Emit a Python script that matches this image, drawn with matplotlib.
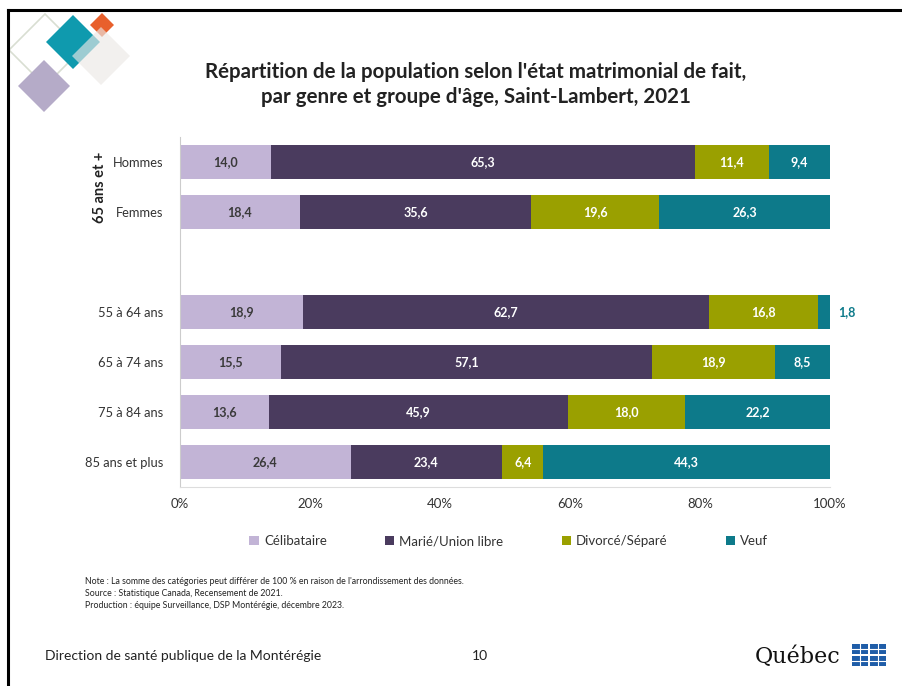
import matplotlib.pyplot as plt
from matplotlib.patches import Polygon, Rectangle
import numpy as np

plt.rcParams['font.family'] = ['Lato', 'DejaVu Sans']

# data
rows = ['Hommes', 'Femmes', '', '55 à 64 ans', '65 à 74 ans', '75 à 84 ans', '85 ans et plus']
series = ['Célibataire', 'Marié/Union libre', 'Divorcé/Séparé', 'Veuf']
celibataire = [14.0, 18.4, 0, 18.9, 15.5, 13.6, 26.4]
marie = [65.3, 35.6, 0, 62.7, 57.1, 45.9, 23.4]
divorce = [11.4, 19.6, 0, 16.8, 18.9, 18.0, 6.4]
veuf = [9.4, 26.3, 0, 1.8, 8.5, 22.2, 44.3]
colors = ['#C2B4D6', '#4A3B5E', '#9AA000', '#0D7A8A']
text_colors = ['#3A3A3A', 'white', 'white', 'white']

W, H = 902, 686
fig = plt.figure(figsize=(W / 100, H / 100), dpi=100)

# overlay for decoration (pixel coords)
deco = fig.add_axes([0, 0, 1, 1], zorder=0)
deco.set_xlim(0, W)
deco.set_ylim(H, 0)
deco.axis('off')


def diamond(cx, cy, r, **kw):
    pts = [(cx, cy - r), (cx + r, cy), (cx, cy + r), (cx - r, cy)]
    deco.add_patch(Polygon(pts, closed=True, **kw))


diamond(45, 50, 36, fill=False, edgecolor='#D9DED2', lw=1.2)
diamond(44, 86, 26, facecolor='#B5ABC8', edgecolor='none')
diamond(73, 42, 27, facecolor='#0F9AAE', edgecolor='none')
diamond(102, 25, 12, facecolor='#E8602C', edgecolor='none')
diamond(101, 56, 29, facecolor='#EBE8E6', edgecolor='none', alpha=0.65)

deco.plot([8, W], [10, 10], color='black', lw=2.2)
deco.plot([8, 8], [10, H], color='black', lw=2.2)

# title
fig.text(476 / W, 1 - 72 / H, "Répartition de la population selon l'état matrimonial de fait,",
         ha='center', va='center', fontsize=14.8, fontweight='bold', color='#222222')
fig.text(476 / W, 1 - 97 / H, "par genre et groupe d'âge, Saint-Lambert, 2021",
         ha='center', va='center', fontsize=14.8, fontweight='bold', color='#222222')

# chart (100 % stacked)
ax = fig.add_axes([180 / W, 1 - 487 / H, 650 / W, 350 / H], zorder=2)
ax.patch.set_alpha(0)
y = np.arange(len(rows))
data = np.array([celibataire, marie, divorce, veuf])
totals = data.sum(axis=0)
totals[totals == 0] = 1
left = np.zeros(len(rows))
for i, vals in enumerate(data):
    widths = vals / totals * 100
    ax.barh(y, widths, left=left, height=0.68, color=colors[i], label=series[i])
    for yi, (l, w, v) in enumerate(zip(left, widths, vals)):
        if v == 0:
            continue
        txt = f'{v:.1f}'.replace('.', ',')
        if v < 3:
            ax.text(l + w + 1.2, yi, txt, ha='left', va='center',
                    fontsize=9, fontweight='bold', color=colors[i])
        else:
            ax.text(l + w / 2, yi, txt, ha='center', va='center',
                    fontsize=9, fontweight='bold', color=text_colors[i])
    left += widths

ax.set_xlim(0, 100)
ax.set_ylim(len(rows) - 0.5, -0.5)
ax.set_xticks([0, 20, 40, 60, 80, 100])
ax.set_xticklabels(['0%', '20%', '40%', '60%', '80%', '100%'], fontsize=9.5, color='#333333')
ax.set_yticks(y)
ax.set_yticklabels(rows, fontsize=9.3, color='#333333')
ax.tick_params(axis='y', length=0, pad=12)
ax.tick_params(axis='x', length=0, pad=8)
for s in ['top', 'right']:
    ax.spines[s].set_visible(False)
ax.spines['left'].set_color('#CCCCCC')
ax.spines['bottom'].set_color('#DDDDDD')

fig.text(100 / W, 1 - 187 / H, '65 ans et +', rotation=90, ha='center', va='center',
         fontsize=10.5, fontweight='bold', color='#222222')

ax.legend(loc='center', bbox_to_anchor=(0.506, 1 - (541 - 137) / 350), ncol=4, frameon=False,
          fontsize=9.5, handlelength=0.7, handleheight=0.7, columnspacing=4.4,
          handletextpad=0.4, labelcolor='#333333')

# notes
notes = ["Note : La somme des catégories peut différer de 100 % en raison de l'arrondissement des données.",
         "Source : Statistique Canada, Recensement de 2021.",
         "Production : équipe Surveillance, DSP Montérégie, décembre 2023."]
for k, n in enumerate(notes):
    fig.text(85 / W, 1 - (581 + 12 * k) / H, n, ha='left', va='center', fontsize=6.3, color='#222222')

# footer
fig.text(45 / W, 1 - 656 / H, 'Direction de santé publique de la Montérégie', ha='left', va='center',
         fontsize=10, color='#222222')
fig.text(480 / W, 1 - 656 / H, '10', ha='center', va='center', fontsize=10, color='#222222')
fig.text(755 / W, 1 - 657 / H, 'Québec', ha='left', va='center', fontsize=16,
         family=['DejaVu Serif'], color='#111111')
for (qx, qy) in [(852, 644), (870, 644), (852, 656), (870, 656)]:
    deco.add_patch(Rectangle((qx, qy), 16, 10, facecolor='#1F5DA8', edgecolor='none'))
    deco.plot([qx + 8, qx + 8], [qy, qy + 10], color='white', lw=0.8)
    deco.plot([qx, qx + 16], [qy + 5, qy + 5], color='white', lw=0.8)

fig.savefig('out.png', dpi=100)
